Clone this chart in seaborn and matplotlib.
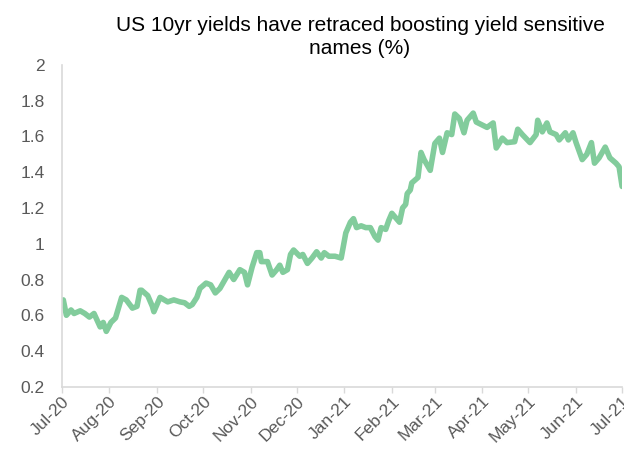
import seaborn as sns
import matplotlib
import matplotlib.pyplot as plt
import matplotlib.dates as mdates
import pandas as pd
matplotlib.use('Agg')

# US 10yr yield (%)
dates = [
    "2020-07-01", "2020-07-02", "2020-07-04", "2020-07-07", "2020-07-09", "2020-07-13",
    "2020-07-16", "2020-07-19", "2020-07-22", "2020-07-26", "2020-07-28", "2020-07-30",
    "2020-08-02", "2020-08-05", "2020-08-09", "2020-08-12", "2020-08-16", "2020-08-19",
    "2020-08-21", "2020-08-22", "2020-08-26", "2020-08-29", "2020-08-30", "2020-09-03",
    "2020-09-05", "2020-09-08", "2020-09-12", "2020-09-16", "2020-09-19", "2020-09-22",
    "2020-09-24", "2020-09-27", "2020-09-29", "2020-10-03", "2020-10-06", "2020-10-09",
    "2020-10-12", "2020-10-14", "2020-10-18", "2020-10-21", "2020-10-25", "2020-10-28",
    "2020-10-30", "2020-11-02", "2020-11-05", "2020-11-07", "2020-11-08", "2020-11-12",
    "2020-11-15", "2020-11-18", "2020-11-20", "2020-11-22", "2020-11-25", "2020-11-27",
    "2020-11-29", "2020-12-03", "2020-12-05", "2020-12-08", "2020-12-11", "2020-12-14",
    "2020-12-17", "2020-12-19", "2020-12-22", "2020-12-26", "2020-12-30", "2021-01-02",
    "2021-01-05", "2021-01-07", "2021-01-09", "2021-01-12", "2021-01-15", "2021-01-18",
    "2021-01-21", "2021-01-23", "2021-01-25", "2021-01-28", "2021-01-30", "2021-02-01",
    "2021-02-04", "2021-02-06", "2021-02-08", "2021-02-10", "2021-02-11", "2021-02-13",
    "2021-02-14", "2021-02-18", "2021-02-20", "2021-02-22", "2021-02-26", "2021-03-01",
    "2021-03-04", "2021-03-06", "2021-03-09", "2021-03-12", "2021-03-14", "2021-03-17",
    "2021-03-20", "2021-03-22", "2021-03-26", "2021-03-28", "2021-04-04", "2021-04-08",
    "2021-04-10", "2021-04-14", "2021-04-17", "2021-04-22", "2021-04-24", "2021-04-27",
    "2021-05-02", "2021-05-06", "2021-05-07", "2021-05-10", "2021-05-13", "2021-05-15",
    "2021-05-19", "2021-05-21", "2021-05-25", "2021-05-27", "2021-05-30", "2021-06-01",
    "2021-06-05", "2021-06-08", "2021-06-11", "2021-06-13", "2021-06-16", "2021-06-20",
    "2021-06-23", "2021-06-27", "2021-06-29", "2021-07-01",
]
yields = [
    0.68, 0.686, 0.60, 0.63, 0.61, 0.625,
    0.61, 0.59, 0.61, 0.535, 0.56, 0.51,
    0.56, 0.585, 0.70, 0.686, 0.64, 0.65,
    0.74, 0.74, 0.71, 0.65, 0.62, 0.70,
    0.69, 0.675, 0.686, 0.675, 0.67, 0.65,
    0.66, 0.70, 0.75, 0.78, 0.77, 0.725,
    0.75, 0.78, 0.84, 0.80, 0.855, 0.84,
    0.77, 0.87, 0.95, 0.95, 0.90, 0.90,
    0.825, 0.855, 0.88, 0.84, 0.855, 0.94,
    0.965, 0.93, 0.94, 0.89, 0.92, 0.955,
    0.92, 0.95, 0.93, 0.93, 0.92, 1.06,
    1.12, 1.14, 1.09, 1.10, 1.09, 1.09,
    1.04, 1.02, 1.09, 1.08, 1.13, 1.17,
    1.14, 1.12, 1.20, 1.22, 1.28, 1.30,
    1.34, 1.37, 1.51, 1.47, 1.41, 1.56,
    1.59, 1.51, 1.62, 1.61, 1.725, 1.70,
    1.62, 1.69, 1.73, 1.68, 1.65, 1.675,
    1.535, 1.59, 1.565, 1.57, 1.64, 1.61,
    1.565, 1.61, 1.69, 1.625, 1.675, 1.625,
    1.61, 1.58, 1.62, 1.58, 1.62, 1.565,
    1.47, 1.50, 1.565, 1.45, 1.48, 1.54,
    1.48, 1.45, 1.43, 1.32,
]

title = "US 10yr yields have retraced boosting yield sensitive\nnames (%)"

df = pd.DataFrame({"date": pd.to_datetime(dates), "yield": yields})

sns.set_style("white")
plt.rcParams['font.family'] = ['Liberation Sans', 'DejaVu Sans']

fig = plt.figure(figsize=(6.24, 4.53), dpi=100)
ax = fig.add_axes([0.099, 0.146, 0.898, 0.711])

sns.lineplot(data=df, x="date", y="yield", ax=ax, color="#82CC9C", linewidth=4)

ax.set_xlim(pd.Timestamp("2020-07-01"), pd.Timestamp("2021-07-01"))
ax.set_ylim(0.2, 2)
ax.set_yticks([0.2, 0.4, 0.6, 0.8, 1.0, 1.2, 1.4, 1.6, 1.8, 2.0])
ax.set_yticklabels(["0.2", "0.4", "0.6", "0.8", "1", "1.2", "1.4", "1.6", "1.8", "2"])
ax.xaxis.set_major_locator(mdates.MonthLocator())
ax.xaxis.set_major_formatter(mdates.DateFormatter("%b-%y"))
ax.set_xlabel("")
ax.set_ylabel("")

for s in ["top", "right"]:
    ax.spines[s].set_visible(False)
for s in ["left", "bottom"]:
    ax.spines[s].set_color("#D9D9D9")
    ax.spines[s].set_linewidth(1.2)

ax.tick_params(axis="x", bottom=True, length=4, width=1, color="#D9D9D9",
               labelsize=12.5, labelcolor="#595959", pad=1)
ax.tick_params(axis="y", left=False, labelsize=12.5, labelcolor="#595959", pad=9)
plt.setp(ax.get_xticklabels(), rotation=45, ha="right", va="top",
         rotation_mode="anchor")

fig.text(0.577, 0.965, title, ha="center", va="top", fontsize=15,
         color="#000000", linespacing=1.3)

fig.savefig("out.png", dpi=100)
